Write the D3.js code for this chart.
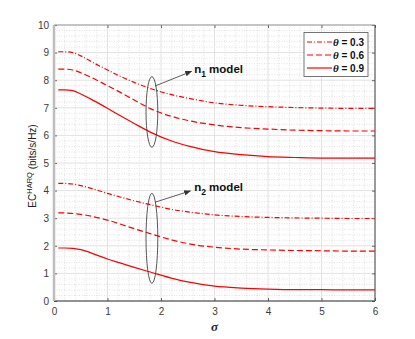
<!DOCTYPE html>
<html>
<head>
<meta charset="utf-8">
<script src="https://cdn.jsdelivr.net/npm/d3@7"></script>
<style>
  body { margin: 0; background: #fff; }
  text { font-family: "Liberation Sans", Arial, sans-serif; }
</style>
</head>
<body>
<div id="chart"></div>
<script>
// sigma samples shared by all curves
var sigma = [0.08, 0.2, 0.35, 0.5, 0.75, 1, 1.25, 1.5, 1.8, 2.25, 2.5, 3, 3.5, 4, 4.5, 5, 5.5, 6];

// n1 model
var n1_t03 = [9.03, 9.03, 9.0, 8.88, 8.62, 8.37, 8.13, 7.92, 7.70, 7.45, 7.35, 7.18, 7.09, 7.04, 7.01, 6.99, 6.98, 6.98];
var n1_t06 = [8.40, 8.40, 8.37, 8.27, 8.05, 7.80, 7.55, 7.28, 6.97, 6.66, 6.54, 6.38, 6.28, 6.23, 6.19, 6.17, 6.16, 6.16];
var n1_t09 = [7.65, 7.65, 7.62, 7.50, 7.25, 6.98, 6.70, 6.43, 6.12, 5.76, 5.62, 5.41, 5.30, 5.23, 5.20, 5.18, 5.18, 5.18];
// n2 model
var n2_t03 = [4.26, 4.26, 4.24, 4.18, 4.05, 3.90, 3.76, 3.63, 3.49, 3.30, 3.23, 3.12, 3.06, 3.03, 3.01, 3.00, 2.99, 2.99];
var n2_t06 = [3.19, 3.19, 3.17, 3.14, 3.05, 2.93, 2.78, 2.62, 2.44, 2.19, 2.08, 1.95, 1.88, 1.85, 1.83, 1.82, 1.81, 1.81];
var n2_t09 = [1.92, 1.92, 1.91, 1.86, 1.70, 1.52, 1.37, 1.22, 1.05, 0.80, 0.69, 0.54, 0.47, 0.43, 0.41, 0.41, 0.40, 0.40];

var xTicks = [0, 1, 2, 3, 4, 5, 6];
var yTicks = [0, 1, 2, 3, 4, 5, 6, 7, 8, 9, 10];
var legendLabels = ["0.3", "0.6", "0.9"];
var dashes = ["5,2,1,2", "6,3", null];

var series = [
  { v: n1_t03, k: 0 }, { v: n1_t06, k: 1 }, { v: n1_t09, k: 2 },
  { v: n2_t03, k: 0 }, { v: n2_t06, k: 1 }, { v: n2_t09, k: 2 }
];

// ellipse: center sigma, center value, rx, ry (data units); arrow from/to; label
var notes = [
  { cx: 1.83, cy: 6.85, rx: 0.11, ry: 1.28, a0: [1.89, 7.79], a1: [2.57, 8.32], tx: 2.62, ty: 8.26, sub: "1" },
  { cx: 1.83, cy: 2.27, rx: 0.11, ry: 1.63, a0: [1.89, 3.58], a1: [2.55, 3.99], tx: 2.62, ty: 4.0, sub: "2" }
];

var W = 415, H = 339;
var svg = d3.select('#chart').append('svg')
  .attr('width', W)
  .attr('height', H);

var x = d3.scaleLinear().domain([0, 6]).range([54, 375]);
var y = d3.scaleLinear().domain([0, 10]).range([301, 25]);

// minor grid
var minorX = d3.range(0, 6.001, 0.2).filter(function (d) { return Math.abs(d - Math.round(d)) > 0.01; });
var minorY = d3.range(0, 10.001, 0.2).filter(function (d) { return Math.abs(d - Math.round(d)) > 0.01; });

svg.append('g').selectAll('line')
  .data(minorX)
  .enter().append('line')
  .attr('x1', function (d) { return x(d); })
  .attr('x2', function (d) { return x(d); })
  .attr('y1', y(0)).attr('y2', y(10))
  .style('stroke', '#d6d6d6')
  .style('stroke-width', 0.7)
  .style('stroke-dasharray', '1,1.5');

svg.append('g').selectAll('line')
  .data(minorY)
  .enter().append('line')
  .attr('y1', function (d) { return y(d); })
  .attr('y2', function (d) { return y(d); })
  .attr('x1', x(0)).attr('x2', x(6))
  .style('stroke', '#d6d6d6')
  .style('stroke-width', 0.7)
  .style('stroke-dasharray', '1,1.5');

// major grid
svg.append('g').selectAll('line')
  .data(xTicks)
  .enter().append('line')
  .attr('x1', function (d) { return x(d); })
  .attr('x2', function (d) { return x(d); })
  .attr('y1', y(0)).attr('y2', y(10))
  .style('stroke', '#e2e2e2')
  .style('stroke-width', 1);

svg.append('g').selectAll('line')
  .data(yTicks)
  .enter().append('line')
  .attr('y1', function (d) { return y(d); })
  .attr('y2', function (d) { return y(d); })
  .attr('x1', x(0)).attr('x2', x(6))
  .style('stroke', '#e2e2e2')
  .style('stroke-width', 1);

// axes (labels + inward ticks)
var gx = svg.append('g')
  .attr('transform', 'translate(0,' + y(0) + ')')
  .call(d3.axisBottom(x).tickValues(xTicks).tickSize(-3).tickPadding(7).tickFormat(d3.format('d')));
var gy = svg.append('g')
  .attr('transform', 'translate(' + x(0) + ',0)')
  .call(d3.axisLeft(y).tickValues(yTicks).tickSize(-3).tickPadding(5).tickFormat(d3.format('d')));
var gx2 = svg.append('g')
  .attr('transform', 'translate(0,' + y(10) + ')')
  .call(d3.axisTop(x).tickValues(xTicks).tickSize(-3).tickFormat(''));
var gy2 = svg.append('g')
  .attr('transform', 'translate(' + x(6) + ',0)')
  .call(d3.axisRight(y).tickValues(yTicks).tickSize(-3).tickFormat(''));

[gx, gy, gx2, gy2].forEach(function (g) {
  g.select('.domain').remove();
  g.selectAll('line').style('stroke', '#444').style('stroke-width', 0.8);
  g.selectAll('text')
    .style('font-family', '"Liberation Sans", Arial, sans-serif')
    .style('font-size', '10px')
    .style('fill', '#3a3a3a');
});

// box
svg.append('line').attr('x1', x(0)).attr('x2', x(6)).attr('y1', y(0)).attr('y2', y(0))
  .style('stroke', '#333').style('stroke-width', 1);
svg.append('line').attr('x1', x(6)).attr('x2', x(6)).attr('y1', y(0)).attr('y2', y(10))
  .style('stroke', '#444').style('stroke-width', 1);
svg.append('line').attr('x1', x(0)).attr('x2', x(6)).attr('y1', y(10)).attr('y2', y(10))
  .style('stroke', '#999').style('stroke-width', 1);
svg.append('line').attr('x1', x(0)).attr('x2', x(0)).attr('y1', y(0)).attr('y2', y(10))
  .style('stroke', '#bdbdbd').style('stroke-width', 2.5);

// curves
var line = d3.line()
  .x(function (d) { return x(d[0]); })
  .y(function (d) { return y(d[1]); })
  .curve(d3.curveMonotoneX);

svg.append('g').selectAll('path')
  .data(series)
  .enter().append('path')
  .attr('d', function (s) { return line(sigma.map(function (t, i) { return [t, s.v[i]]; })); })
  .style('fill', 'none')
  .style('stroke', '#ff0000')
  .style('stroke-width', 1.2)
  .style('stroke-dasharray', function (s) { return dashes[s.k]; });

// ellipses, arrows and labels
var defs = svg.append('defs');
defs.append('marker')
  .attr('id', 'arr')
  .attr('viewBox', '0 0 10 10')
  .attr('refX', 9).attr('refY', 5)
  .attr('markerWidth', 7).attr('markerHeight', 7)
  .attr('markerUnits', 'userSpaceOnUse')
  .attr('orient', 'auto')
  .append('path')
  .attr('d', 'M0,1 L10,5 L0,9 Z')
  .style('fill', '#333');

var ng = svg.append('g').selectAll('g')
  .data(notes)
  .enter().append('g');

ng.append('ellipse')
  .attr('cx', function (d) { return x(d.cx); })
  .attr('cy', function (d) { return y(d.cy); })
  .attr('rx', function (d) { return x(d.cx + d.rx) - x(d.cx); })
  .attr('ry', function (d) { return y(d.cy - d.ry) - y(d.cy); })
  .style('fill', 'none')
  .style('stroke', '#444')
  .style('stroke-width', 0.9);

ng.append('line')
  .attr('x1', function (d) { return x(d.a0[0]); })
  .attr('y1', function (d) { return y(d.a0[1]); })
  .attr('x2', function (d) { return x(d.a1[0]); })
  .attr('y2', function (d) { return y(d.a1[1]); })
  .style('stroke', '#333')
  .style('stroke-width', 0.8)
  .attr('marker-end', 'url(#arr)');

var lbl = ng.append('text')
  .attr('x', function (d) { return x(d.tx); })
  .attr('y', function (d) { return y(d.ty); })
  .style('font-size', '11.5px')
  .style('font-weight', 'bold')
  .style('fill', '#111');
lbl.append('tspan').text('n');
lbl.append('tspan').attr('dy', 4).style('font-size', '8.5px').text(function (d) { return d.sub; });
lbl.append('tspan').attr('dy', -4).text(' model');

// legend
var lg = svg.append('g');
lg.append('rect')
  .attr('x', 304).attr('y', 32.5)
  .attr('width', 64).attr('height', 44)
  .style('fill', '#fff')
  .style('stroke', '#666')
  .style('stroke-width', 0.9);

var li = lg.selectAll('g.item')
  .data(legendLabels)
  .enter().append('g')
  .attr('class', 'item')
  .attr('transform', function (d, i) { return 'translate(0,' + (42 + i * 13) + ')'; });

li.append('line')
  .attr('x1', 307).attr('x2', 332)
  .style('stroke', '#ff0000')
  .style('stroke-width', 1.2)
  .style('stroke-dasharray', function (d, i) { return dashes[i]; });

var lt = li.append('text')
  .attr('x', 333).attr('y', 3.5)
  .style('font-size', '10px')
  .style('font-weight', 'bold')
  .style('fill', '#111');
lt.append('tspan')
  .style('font-family', '"Liberation Serif", serif')
  .style('font-style', 'italic')
  .style('font-size', '11px')
  .text('\u03b8');
lt.append('tspan').text(function (d) { return ' = ' + d; });

// axis titles
var yl = svg.append('text')
  .attr('transform', 'translate(36,' + 166 + ') rotate(-90)')
  .attr('text-anchor', 'middle')
  .style('font-size', '10px')
  .style('fill', '#222');
yl.append('tspan').text('EC');
yl.append('tspan').attr('dy', -4).style('font-size', '7.5px').text('HARQ');
yl.append('tspan').attr('dy', 4).text(' (bits/s/Hz)');

svg.append('text')
  .attr('x', x(3)).attr('y', 331)
  .attr('text-anchor', 'middle')
  .style('font-family', '"Liberation Serif", serif')
  .style('font-style', 'italic')
  .style('font-weight', 'bold')
  .style('font-size', '13px')
  .style('fill', '#222')
  .text('\u03c3');
</script>
</body>
</html>
